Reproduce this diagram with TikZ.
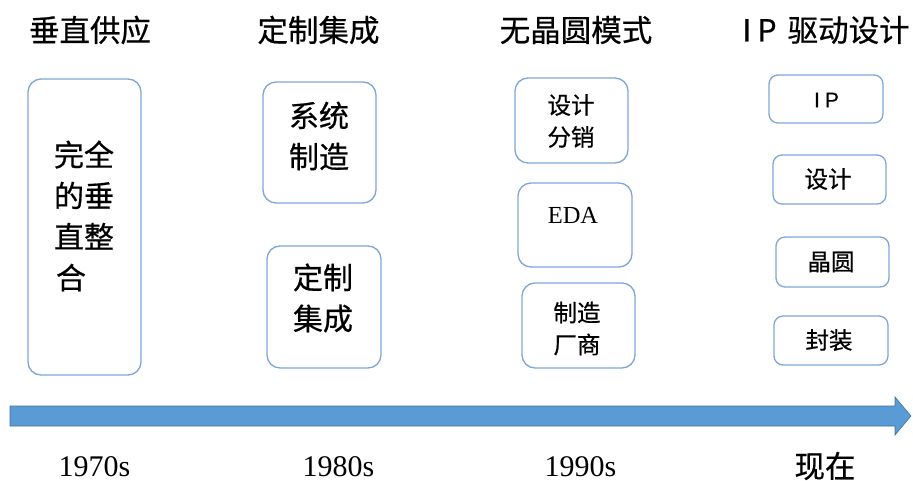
\documentclass[tikz,border=0pt]{standalone}
\usepackage{fontspec}
\setmainfont{Liberation Serif}
\newfontfamily\cjk[FakeBold=0.6]{Noto Sans CJK SC}
\newfontfamily\arialf[FakeBold=0.4]{Liberation Sans}
\definecolor{boxline}{RGB}{125,166,216}
\definecolor{arrowfill}{RGB}{91,155,213}
\definecolor{arrowline}{RGB}{65,113,156}
\tikzset{
  box/.style={draw=boxline, line width=1.3pt, rounded corners=13pt, inner sep=0pt},
  sbox/.style={box, rounded corners=9pt},
  head/.style={font=\cjk\fontsize{30.5}{34}\selectfont, inner sep=0pt, anchor=center},
  bigtxt/.style={font=\cjk\fontsize{30}{41}\selectfont, align=left, inner sep=0pt},
  smtxt/.style={font=\cjk\fontsize{23.5}{32}\selectfont, align=left, inner sep=0pt},
  year/.style={font=\fontsize{30}{34}\selectfont, inner sep=0pt, anchor=base},
}
\begin{document}
\begin{tikzpicture}[x=1pt,y=-1pt]
\useasboundingbox (0,0) rectangle (913,481);
% headers
\node[head] (h1) at (90,30) {垂直供应};
\node[head] (h2) at (318.5,30) {定制集成};
\node[head] (h3) at (576,30) {无晶圆模式};
\node[head] (h4) at (826,30) {I\kern6pt P\kern11pt 驱动设计};
% boxes
\node[box, minimum width=113pt, minimum height=296pt] (b1) at (84.5,227) {};
\node[bigtxt] (t1) at (84,216) {完全\\的垂\\直整\\\kern2pt 合};
\node[box, minimum width=113pt, minimum height=121pt] (b2) at (319.5,142.5) {};
\node[bigtxt] (t2) at (319,136) {系统\\制造};
\node[box, minimum width=114pt, minimum height=122pt] (b3) at (324,307) {};
\node[bigtxt] (t3) at (323,298) {定制\\集成};
\node[box, minimum width=113pt, minimum height=85pt] (b4) at (571.5,120.5) {};
\node[smtxt] (t4) at (571,121) {设计\\分销};
\node[box, minimum width=114pt, minimum height=84pt] (b5) at (575,225) {};
\node[inner sep=0pt, font=\fontsize{24.5}{28}\selectfont] (t5) at (573,215) {EDA};
\node[box, minimum width=113pt, minimum height=85pt] (b6) at (578.5,325.5) {};
\node[smtxt] (t6) at (577,328.5) {制造\\厂商};
\node[sbox, minimum width=114pt, minimum height=48pt] (b7) at (826,99) {};
\node[inner sep=0pt, font=\arialf\fontsize{21}{24}\selectfont] (t7) at (826.5,100) {I\kern5pt P};
\node[sbox, minimum width=113pt, minimum height=49pt] (b8) at (829.5,179.5) {};
\node[smtxt] (t8) at (828,179) {设计};
\node[sbox, minimum width=113pt, minimum height=50pt] (b9) at (832.5,262) {};
\node[smtxt] (t9) at (831,262) {晶圆};
\node[sbox, minimum width=114pt, minimum height=49pt] (b10) at (831,340.5) {};
\node[smtxt] (t10) at (829,340) {封装};
% timeline arrow
\coordinate (ta) at (10,416);
\coordinate (tb) at (911,416);
\filldraw[fill=arrowfill, draw=arrowline, line width=0.6pt]
  (ta) ++(0,-10) -- (895,406) -- (895,397) -- (tb) -- (895,435) -- (895,426) -- (10,426) -- cycle;
% years
\node[year] (y1) at (94.5,476) {1970s};
\node[year] (y2) at (338.5,476) {1980s};
\node[year] (y3) at (580.5,476) {1990s};
\node[head] (y4) at (825,466) {现在};
\end{tikzpicture}
\end{document}
